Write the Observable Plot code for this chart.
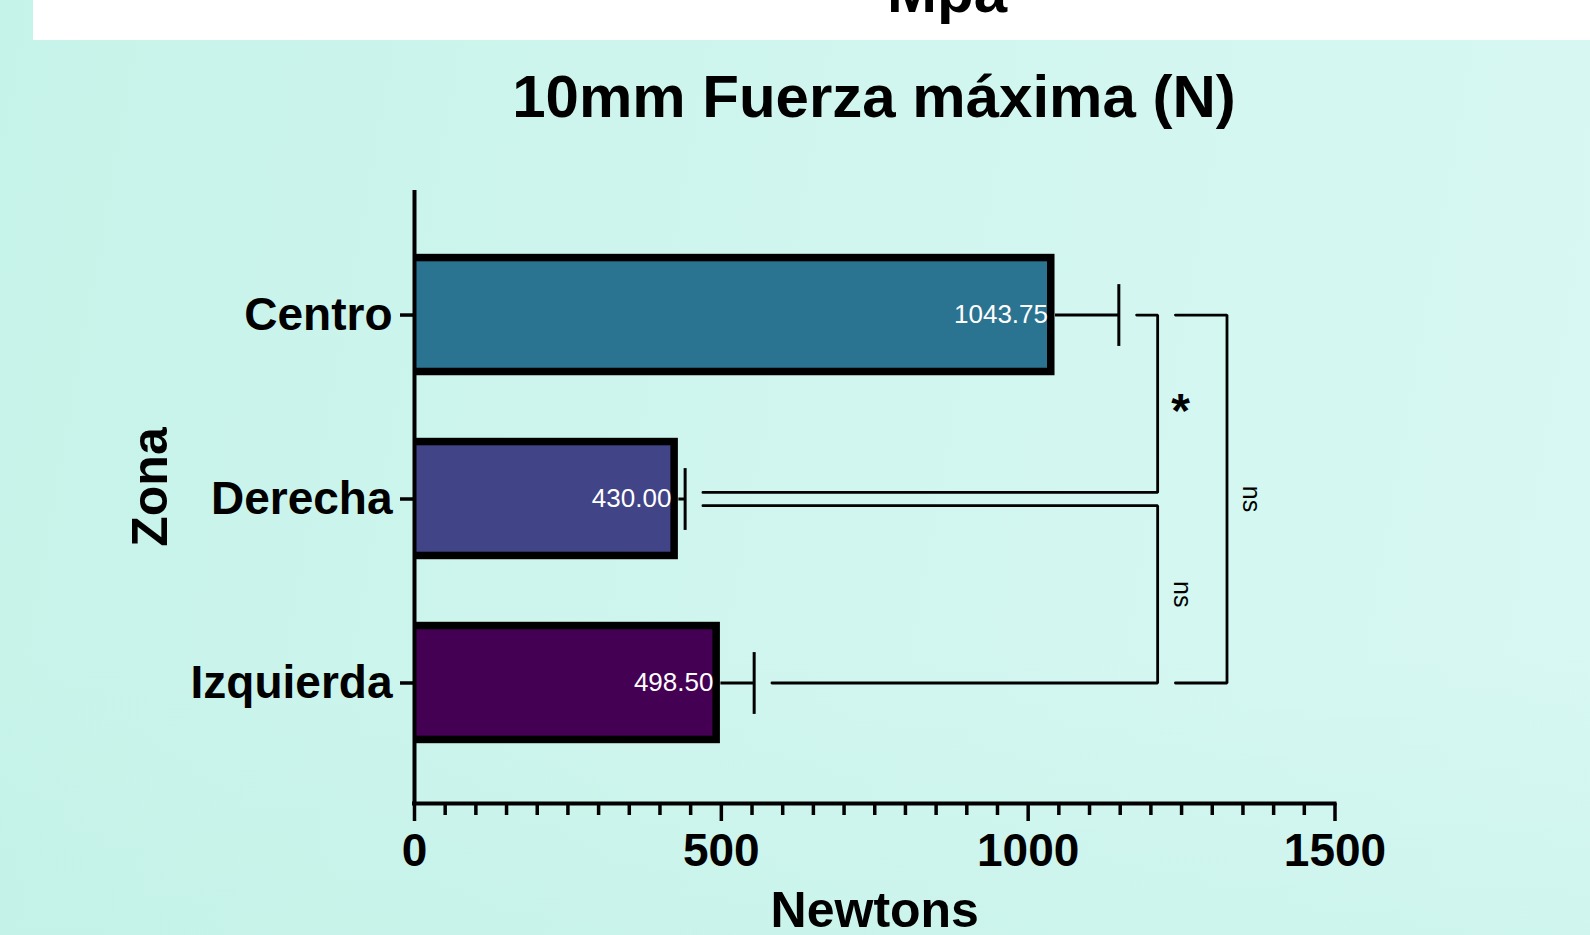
<!DOCTYPE html>
<html lang="es">
<head>
<meta charset="utf-8">
<title>10mm Fuerza máxima (N)</title>
<script src="https://cdn.jsdelivr.net/npm/d3@7"></script>
<script src="https://cdn.jsdelivr.net/npm/@observablehq/plot@0.6"></script>
<style>
  html, body { margin: 0; padding: 0; }
  body { width: 1590px; height: 935px; overflow: hidden; }
  #page {
    position: relative;
    width: 1590px;
    height: 935px;
    overflow: hidden;
    font-family: "Liberation Sans", Arial, sans-serif;
    background:
      linear-gradient(180deg, rgba(255,255,255,0) 70%, rgba(190,240,228,0.35) 100%),
      linear-gradient(100deg, #c6f3e9 0%, #d1f6ef 55%, #d8f8f3 100%);
  }
  #banda {
    position: absolute; left: 33px; top: 0; width: 1557px; height: 40px;
    background: #ffffff; overflow: hidden;
  }
  #unidad {
    position: absolute; left: 914px; top: -38px; transform: translateX(-50%);
    font-size: 60px; line-height: 60px; font-weight: bold; color: #000;
    white-space: nowrap;
  }
  #titulo {
    position: absolute; left: 874px; top: 67px; transform: translateX(-50%);
    font-size: 60px; line-height: 60px; font-weight: bold; color: #000;
    white-space: nowrap; margin: 0;
  }
  #grafico { position: absolute; left: 0; top: 140px; }
  #grafico svg { overflow: visible; }
</style>
</head>
<body>
<div id="page">
  <div id="banda"><div id="unidad">Mpa</div></div>
  <h1 id="titulo">10mm Fuerza máxima (N)</h1>
  <div id="grafico"></div>
</div>
<script>
// Fuerza máxima por zona (media ± desviación estándar), en Newtons
const zonas = ["Centro", "Derecha", "Izquierda"];
const medias = [1043.75, 430.00, 498.50];
const desviaciones = [104, 11, 55];

// Marcas del eje X
const ticksX = [0, 500, 1000, 1500];
const pasoMenor = 50;

// Comparaciones múltiples entre zonas
const compA = ["Centro", "Derecha", "Centro"];
const compB = ["Derecha", "Izquierda", "Izquierda"];
const compNivel = [1211, 1211, 1324];   // posición del corchete (N)
const compSignif = ["*", "ns", "ns"];

const datos = zonas.map((zona, i) => ({
  zona, i,
  media: medias[i],
  superior: medias[i] + desviaciones[i]
}));

const idx = (z) => zonas.indexOf(z);
const comparaciones = compA.map((a, k) => ({k, a, b: compB[k], x: compNivel[k], p: compSignif[k]}));

// Separación de los extremos de cada corchete
const holgura = 29;       // N
const separacion = 0.036; // unidades de categoría

function inicio(c, z) {
  let m = datos[idx(z)].superior;
  for (const o of comparaciones) {
    if (o !== c && o.x < c.x) {
      const lo = Math.min(idx(o.a), idx(o.b)), hi = Math.max(idx(o.a), idx(o.b));
      if (idx(z) >= lo && idx(z) <= hi) m = Math.max(m, o.x);
    }
  }
  return m + holgura;
}

const trazos = [];
const etiquetas = [];
for (const c of comparaciones) {
  const ya = idx(c.a) + (comparaciones.some(o => o !== c && o.b === c.a) ? separacion : 0);
  const yb = idx(c.b) - (comparaciones.some(o => o !== c && o.a === c.b) ? separacion : 0);
  trazos.push({k: c.k, x: inicio(c, c.a), y: ya});
  trazos.push({k: c.k, x: c.x, y: ya});
  trazos.push({k: c.k, x: c.x, y: yb});
  trazos.push({k: c.k, x: inicio(c, c.b), y: yb});
  etiquetas.push({x: c.x, y: (ya + yb) / 2, p: c.p});
}

const dominioY = [2.655, -0.666];
const menores = d3.range(0, 1501, pasoMenor).filter(v => !ticksX.includes(v));
const medio = 0.33;   // media altura de barra
const capa = 0.168;   // media altura del remate de error

const grafico = Plot.plot({
  width: 1590,
  height: 795,
  marginLeft: 414,
  marginRight: 255.5,
  marginTop: 52,
  marginBottom: 132,
  style: {background: "transparent", fontFamily: "'Liberation Sans', Arial, sans-serif", color: "#000"},
  x: {domain: [0, 1500]},
  y: {domain: dominioY},
  color: {domain: zonas, range: ["#2b7491", "#414487", "#440154"]},
  marks: [
    // barras: contorno negro y relleno
    Plot.rectX(datos, {x1: 0, x2: "media", y1: d => d.i - medio, y2: d => d.i + medio, fill: "#000"}),
    Plot.rectX(datos, {x1: 0, x2: "media", y1: d => d.i - medio, y2: d => d.i + medio, fill: "zona",
      insetTop: 7.5, insetBottom: 7.5, insetRight: 7.5}),
    Plot.text(datos, {x: "media", y: "i", text: d => d.media.toFixed(2), textAnchor: "end", dx: -7,
      fill: "white", fontSize: 26}),
    // barras de error
    Plot.link(datos, {x1: "media", x2: "superior", y1: "i", y2: "i", stroke: "#000", strokeWidth: 3}),
    Plot.link(datos, {x1: "superior", x2: "superior", y1: d => d.i - capa, y2: d => d.i + capa,
      stroke: "#000", strokeWidth: 3}),
    // corchetes de significación
    Plot.line(trazos, {x: "x", y: "y", z: "k", stroke: "#000", strokeWidth: 2.8, strokeLinejoin: "miter"}),
    Plot.text(etiquetas.filter(d => d.p !== "*"), {x: "x", y: "y", text: "p", rotate: 90, dx: 24,
      fontSize: 25, fill: "#000"}),
    Plot.text(etiquetas.filter(d => d.p === "*"), {x: "x", y: "y", text: "p", dx: 23, dy: 8,
      fontSize: 48, fontWeight: "bold", fill: "#000"}),
    // ejes
    Plot.axisX(menores, {tickSize: 12, tickFormat: () => "", strokeWidth: 3.5, label: null}),
    Plot.axisX(ticksX, {tickSize: 18, tickPadding: 12, tickFormat: (v) => String(v), fontSize: 46,
      fontWeight: "bold", strokeWidth: 3.5, label: null}),
    Plot.axisY([0, 1, 2], {tickFormat: (i) => zonas[i], tickSize: 14, tickPadding: 8, fontSize: 46,
      fontWeight: "bold", strokeWidth: 3.5, label: null}),
    Plot.ruleX([0], {strokeWidth: 4, strokeLinecap: "square"}),
    Plot.ruleY([dominioY[0]], {strokeWidth: 4, strokeLinecap: "square"}),
    Plot.text(["Zona"], {frameAnchor: "left", textAnchor: "middle", rotate: -90, dx: -264, dy: -11,
      fontSize: 50, fontWeight: "bold", fill: "#000"}),
    Plot.text(["Newtons"], {frameAnchor: "bottom", textAnchor: "middle", lineAnchor: "middle", dy: 107,
      fontSize: 50, fontWeight: "bold", fill: "#000"})
  ]
});

document.getElementById("grafico").appendChild(grafico);
</script>
</body>
</html>
